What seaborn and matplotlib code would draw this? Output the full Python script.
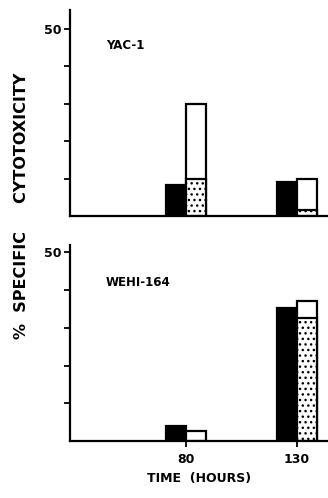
import pandas as pd
import matplotlib.pyplot as plt
import seaborn as sns

# values (% specific cytotoxicity)
times = [80, 130]
groups = ['solid', 'open']

yac_solid = [8.3, 9.0]
yac_open_total = [30.0, 10.0]
yac_open_dotted = [10.0, 1.6]

wehi_solid = [4.0, 35.2]
wehi_open_total = [2.7, 37.0]
wehi_open_dotted = [0.0, 32.5]

panel_names = ['YAC-1', 'WEHI-164']

sns.set_style('ticks')
plt.rcParams['font.family'] = ['DejaVu Sans']
plt.rcParams['font.weight'] = 'bold'
plt.rcParams['text.color'] = 'black'
plt.rcParams['xtick.color'] = 'black'
plt.rcParams['ytick.color'] = 'black'
plt.rcParams['axes.edgecolor'] = 'black'
plt.rcParams['axes.labelcolor'] = 'black'
plt.rcParams['hatch.linewidth'] = 1.0

fig = plt.figure(figsize=(3.28, 4.98), dpi=100)
ax_top = fig.add_axes([0.213, 0.566, 0.787, 0.414])
ax_bot = fig.add_axes([0.213, 0.1145, 0.787, 0.394])


def draw_panel(ax, solid, total, dotted, name, ytop, label_y):
    # outer bars: solid black + open (total height)
    outer = pd.DataFrame({
        'time': times * 2,
        'group': ['solid'] * 2 + ['open'] * 2,
        'value': solid + total,
    })
    sns.barplot(data=outer, x='time', y='value', hue='group', hue_order=groups,
                native_scale=True, width=0.36, palette=['black', 'white'],
                edgecolor='black', linewidth=1.6, saturation=1, legend=False,
                errorbar=None, ax=ax)
    # dotted lower part of the open bar
    inner = pd.DataFrame({
        'time': times * 2,
        'group': ['solid'] * 2 + ['open'] * 2,
        'value': [0, 0] + dotted,
    })
    sns.barplot(data=inner, x='time', y='value', hue='group', hue_order=groups,
                native_scale=True, width=0.36, palette=['white', 'white'],
                edgecolor='black', linewidth=1.6, saturation=1, legend=False,
                errorbar=None, ax=ax)
    for bar in ax.containers[-2]:
        bar.set_visible(False)
    for bar in ax.containers[-1]:
        bar.set_hatch('...')
        if bar.get_height() == 0:
            bar.set_visible(False)

    ax.set_xlim(28, 144)
    ax.set_ylim(0, ytop)
    ax.set_yticks([10, 20, 30, 40, 50])
    ax.set_yticklabels(['', '', '', '', '50'], fontsize=9, fontweight='bold')
    ax.tick_params(axis='y', direction='out', length=4, width=1.3, pad=2)
    ax.set_xlabel('')
    ax.set_ylabel('')
    for side in ['top', 'right']:
        ax.spines[side].set_visible(False)
    for side in ['left', 'bottom']:
        ax.spines[side].set_linewidth(1.6)
    ax.text(0.14, label_y, name, transform=ax.transAxes, fontsize=8.5,
            fontweight='bold', va='center', ha='left')


draw_panel(ax_top, yac_solid, yac_open_total, yac_open_dotted,
           panel_names[0], 55, 0.83)
draw_panel(ax_bot, wehi_solid, wehi_open_total, wehi_open_dotted,
           panel_names[1], 52, 0.81)

ax_top.set_xticks([])
ax_bot.set_xticks(times)
ax_bot.set_xticklabels(['80', '130'], fontsize=9, fontweight='bold')
ax_bot.tick_params(axis='x', direction='out', length=4, width=1.3, pad=5)
ax_bot.set_xlabel('TIME  (HOURS)', fontsize=9, fontweight='bold', labelpad=4)

fig.text(0.067, 0.586, '%  SPECIFIC     CYTOTOXICITY', rotation=90,
         fontsize=11.5, fontweight='bold', ha='center', va='center')

plt.savefig('out.png', dpi=100)
